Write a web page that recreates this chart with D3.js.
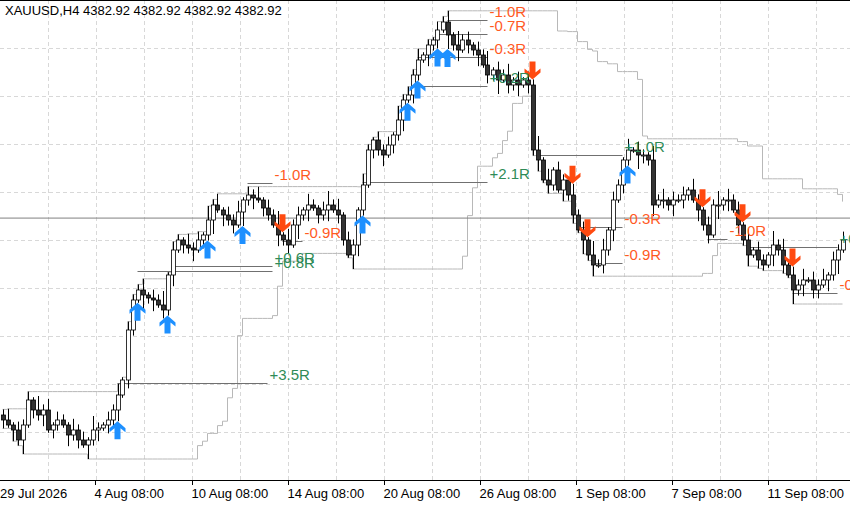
<!DOCTYPE html>
<html><head><meta charset="utf-8">
<script src="https://cdn.jsdelivr.net/npm/d3@7"></script>
<style>body{margin:0;background:#fff}svg{display:block;font-family:"Liberation Sans",Arial,sans-serif}</style>
</head><body><svg id="c" width="850" height="507"></svg>
<script>
// closing prices per H4 bar
const closes=[4181,4176,4171,4161,4176,4201,4191,4186,4191,4171,4176,4181,4176,4166,4171,4161,4156,4161,4171,4173,4176,4181,4191,4206,4221,4271,4301,4311,4306,4303,4301,4296,4291,4326,4351,4361,4356,4353,4351,4361,4366,4381,4396,4391,4386,4381,4376,4389,4401,4406,4403,4401,4393,4386,4376,4366,4361,4356,4376,4386,4391,4396,4393,4386,4391,4396,4391,4386,4361,4346,4356,4391,4416,4451,4461,4451,4446,4456,4466,4481,4501,4506,4526,4541,4546,4556,4561,4571,4579,4566,4556,4551,4561,4556,4551,4546,4536,4526,4531,4521,4526,4516,4521,4516,4521,4516,4451,4441,4421,4416,4431,4411,4421,4406,4386,4371,4361,4346,4336,4336,4351,4371,4401,4416,4441,4451,4451,4446,4446,4441,4396,4401,4401,4396,4401,4401,4406,4411,4401,4391,4376,4366,4396,4396,4401,4401,4391,4376,4361,4346,4351,4341,4336,4346,4356,4351,4336,4326,4311,4316,4321,4321,4311,4316,4321,4326,4341,4351,4361];
const firstOpen=4186;
const wickUp="2413231524132142315213241322413251321423152413241324132514231421352413214213231523241213241523132513241313251413214231524132141321524132314213251423141321524132413";
const wickDn="3142513241321423152413241321524132413241325142315241321423152413241321542132413241321423152413241325132413241321423152413241321532413241321423152413241321423152413";
const tickIdx=[0,19,38.4,57.6,76.8,96,115.2,134.4,153.6];
const tickLabels=["29 Jul 2026","4 Aug 08:00","10 Aug 08:00","14 Aug 08:00","20 Aug 08:00","26 Aug 08:00","1 Sep 08:00","7 Sep 08:00","11 Sep 08:00"];
const buyIdx=[23,27,33,41,48,72,81,83,87,89,125];
const sellIdx=[56,106,114,117,140,148,158];
// trades: [entryIdx, exitIdx, price, label]
const trades=[[23,53,4218,"+3.5R"],[27,54,4330,"+0.8R"],[34,54,4335,"+0.6R"],[49,54,4418,"-1.0R"],[56,60,4360,"-0.9R"],[89,97,4581,"-1.0R"],[87,97,4567,"-0.7R"],[83,97,4544,"-0.3R"],[82,97,4515,"+0.2R"],[72,97,4419,"+2.1R"],[107,124,4446,"+1.0R"],[115,124,4374,"-0.3R"],[118,124,4338,"-0.9R"],[141,145,4362,"-1.0R"],[149,167,4354,"+0.5R"],[158,167,4308,"-0.5R"]];
const lastPrice=4382.92;

const svg=d3.select("#c"),W=850,H=480;
const x=d3.scaleLinear().domain([0,170]).range([0,850]);
const y=d3.scaleLinear().domain([4121,4601]).range([480,0]);
const bars=closes.map((c,i)=>{const o=i?closes[i-1]:firstOpen;return{i,o,c,h:Math.max(o,c)+ +wickUp[i%wickUp.length]*2.8,l:Math.min(o,c)- +wickDn[i%wickDn.length]*2.8};});
const g=svg.append("g").attr("stroke","#d8d8d8").attr("stroke-dasharray","4,3");
d3.range(48,850,48).forEach(v=>g.append("line").attr("x1",v+.5).attr("x2",v+.5).attr("y1",0).attr("y2",H));
d3.range(4601-48,4121,-48).forEach(p=>g.append("line").attr("x1",0).attr("x2",W).attr("y1",Math.round(y(p))+.5).attr("y2",Math.round(y(p))+.5));
const N=22,up=[],dn=[];
bars.forEach((b,i)=>{const w=bars.slice(Math.max(0,i-N+1),i+1);up.push([i,d3.max(w,d=>d.h)]);dn.push([i,d3.min(w,d=>d.l)]);});
const ln=d3.line().x(d=>x(d[0]+.5)).y(d=>y(d[1])).curve(d3.curveStepAfter);
svg.append("path").attr("d",ln(up)).attr("fill","none").attr("stroke","#b8b8b8");
svg.append("path").attr("d",ln(dn)).attr("fill","none").attr("stroke","#b8b8b8");
svg.append("line").attr("x1",0).attr("x2",W).attr("y1",y(lastPrice)).attr("y2",y(lastPrice)).attr("stroke","#808080");
trades.forEach(t=>svg.append("line").attr("x1",x(t[0]+.5)).attr("x2",x(t[1]+.5)).attr("y1",Math.round(y(t[2]))+.5).attr("y2",Math.round(y(t[2]))+.5).attr("stroke","#707070"));
const cg=svg.append("g");
bars.forEach(b=>{const cx=Math.round(x(b.i+.5))+.5;
 cg.append("line").attr("x1",cx).attr("x2",cx).attr("y1",y(b.h)).attr("y2",y(b.l)).attr("stroke","#000");
 const t=y(Math.max(b.o,b.c)),bt=y(Math.min(b.o,b.c));
 cg.append("rect").attr("x",cx-2).attr("y",t).attr("width",4).attr("height",Math.max(1,bt-t)).attr("fill",b.c>=b.o?"#fff":"#333").attr("stroke","#000").attr("stroke-width",.8);});
function arrow(i,dir){const b=bars[i],cx=x(i+.5),base=dir>0?y(b.l)+2:y(b.h)-2;
 const col=dir>0?"#1e90ff":"#ff4a10";
 const shape=[[0,0],[8,7],[8,11],[3,7],[3,18],[-3,18],[-3,7],[-8,11],[-8,7]];
 const p=shape.map(q=>[cx+q[0],dir>0?base+q[1]-2:base-q[1]+2]);
 svg.append("path").attr("d","M"+p.join("L")+"Z").attr("fill",col);}
buyIdx.forEach(i=>arrow(i,1));sellIdx.forEach(i=>arrow(i,-1));
trades.forEach(t=>svg.append("text").attr("x",x(t[1]+.5)+2).attr("y",y(t[2])-3).attr("font-size",15).attr("fill",t[3][0]=="+"?"#2e8b57":"#ff5a1f").text(t[3]));
svg.append("line").attr("x1",0).attr("x2",W).attr("y1",.5).attr("y2",.5).attr("stroke","#000");
svg.append("line").attr("x1",0).attr("x2",W).attr("y1",H+.5).attr("y2",H+.5).attr("stroke","#000");
tickIdx.forEach((t,k)=>{const tx=Math.round(x(t))+.5;
 if(k)svg.append("line").attr("x1",tx).attr("x2",tx).attr("y1",H).attr("y2",H+5).attr("stroke","#000");
 svg.append("text").attr("x",k?tx-1:0).attr("y",498).attr("font-size",13).attr("fill","#000").text(tickLabels[k]);});
svg.append("text").attr("x",5).attr("y",15).attr("font-size",13).attr("fill","#000").text("XAUUSD,H4  4382.92 4382.92 4382.92 4382.92");
</script></body></html>
